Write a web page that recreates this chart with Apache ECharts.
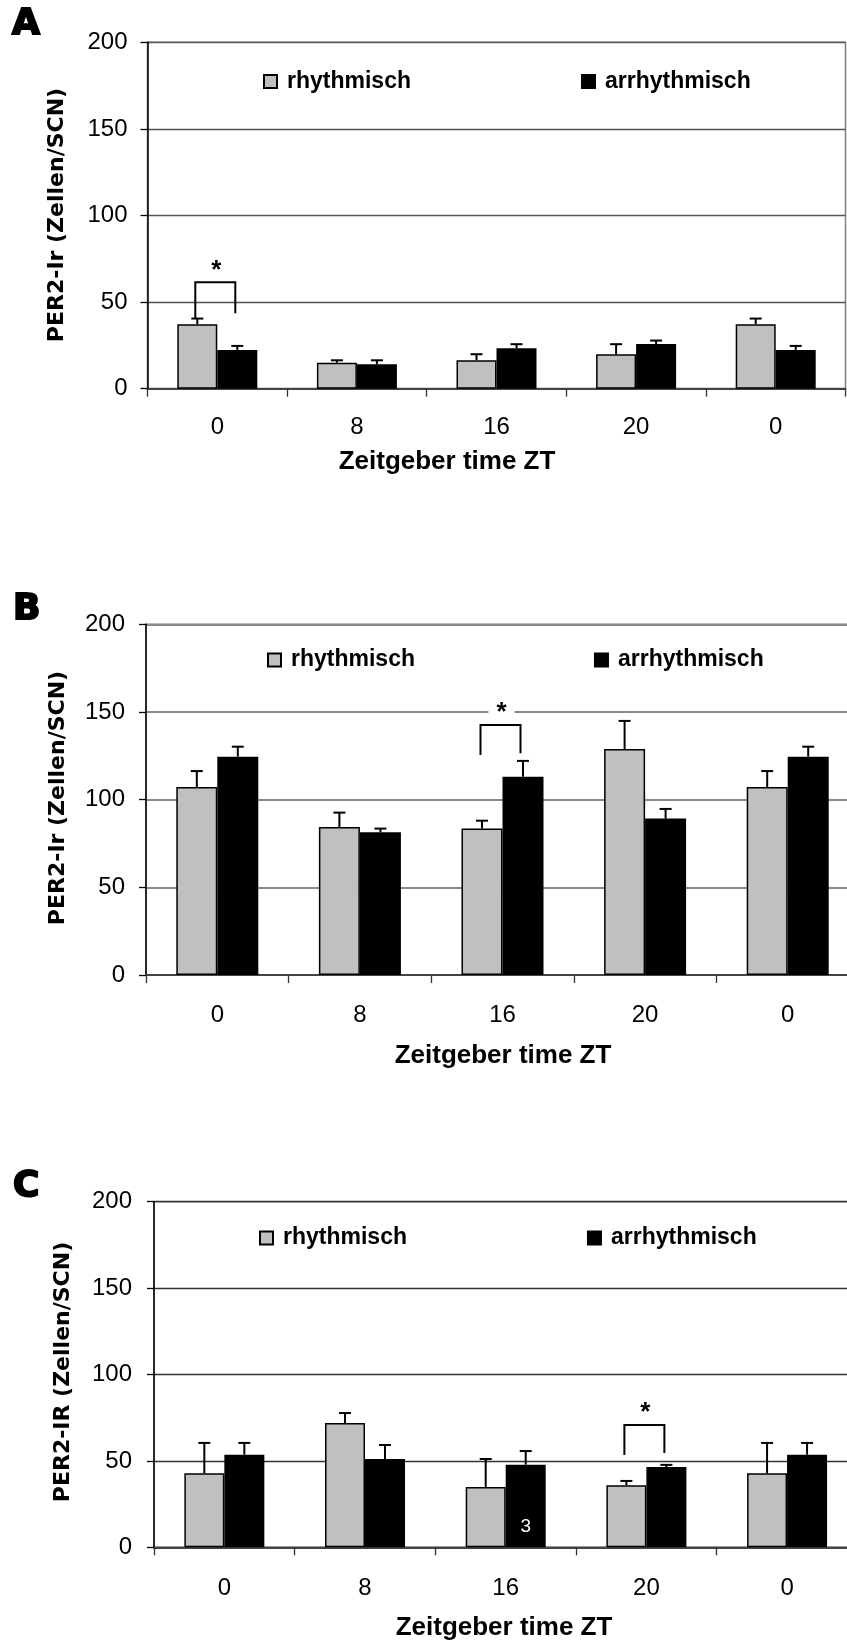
<!DOCTYPE html>
<html><head><meta charset="utf-8">
<script src="https://cdn.jsdelivr.net/npm/echarts@6/dist/echarts.min.js"></script>
<style>html,body{margin:0;padding:0;overflow:hidden;background:#fff}#c{width:860px;height:1644px}</style>
</head><body><div id="c"></div>
<script>
// ---------- data ----------
const categories = ['0', '8', '16', '20', '0'];
const seriesNames = ['rhythmisch', 'arrhythmisch'];
const panelLetters = ['A', 'B', 'C'];
const yTitles = ['PER2-Ir (Zellen/SCN)', 'PER2-Ir (Zellen/SCN)', 'PER2-IR (Zellen/SCN)'];
const xTitle = 'Zeitgeber time ZT';

const A_rhythmisch = [37.2, 15.0, 16.4, 19.9, 37.2];
const A_rhythmischErr = [3.3, 1.4, 3.5, 5.8, 3.3];
const A_arrhythmisch = [22.4, 14.1, 23.4, 25.8, 22.4];
const A_arrhythmischErr = [2.3, 2.3, 2.3, 2.0, 2.3];

const B_rhythmisch = [107.2, 84.4, 83.5, 128.9, 107.2];
const B_rhythmischErr = [9.1, 8.2, 4.5, 16.0, 9.1];
const B_arrhythmisch = [124.5, 81.4, 113.1, 89.2, 124.5];
const B_arrhythmischErr = [5.7, 2.1, 9.0, 5.5, 5.7];

const C_rhythmisch = [42.8, 71.9, 34.9, 35.9, 42.8];
const C_rhythmischErr = [17.6, 5.8, 16.2, 2.5, 17.6];
const C_arrhythmisch = [53.6, 51.1, 47.8, 46.5, 53.6];
const C_arrhythmischErr = [6.8, 8.1, 7.9, 1.2, 6.8];

// significance: [category index, bracket top, left foot, right foot]
const A_sig = [0, 61.4, 40.6, 43.5];
const B_sig = [2, 142.6, 125.5, 126.4];
const C_sig = [3, 70.8, 53.4, 54.6];
// n annotation inside a bar of panel C (arrhythmisch): [category index, text]
const C_note = [2, '3'];

const panels = [
  {rh: A_rhythmisch, rhE: A_rhythmischErr, ar: A_arrhythmisch, arE: A_arrhythmischErr, sig: A_sig, note: null},
  {rh: B_rhythmisch, rhE: B_rhythmischErr, ar: B_arrhythmisch, arE: B_arrhythmischErr, sig: B_sig, note: null},
  {rh: C_rhythmisch, rhE: C_rhythmischErr, ar: C_arrhythmisch, arE: C_arrhythmischErr, sig: C_sig, note: C_note}
];

// ---------- layout / style ----------
const W = 860;
const L = [
  {left: 147.5, right: W - 845.5, top: 42.3, height: 346.4, barW: 40, gridC: '#555', gridW: 1.3, yMargin: 20, xMargin: 27,
   letter: [12, 25], yT: [57.5, 215], xT: [447, 461.7], lg: {left: 263, top: 70, gap: 170}, starBg: false},
  {left: 146, right: W - 859, top: 624.3, height: 350.7, barW: 41, gridC: '#8a8a8a', gridW: 2, yMargin: 21, xMargin: 28,
   letter: [13, 610], yT: [57.8, 798], xT: [503, 1055.6], lg: {left: 267, top: 648.5, gap: 179}, starBg: true},
  {left: 154, right: W - 857.4, top: 1201.7, height: 345.6, barW: 40, gridC: '#333', gridW: 1.3, yMargin: 22, xMargin: 29,
   letter: [13, 1187], yT: [63.2, 1372], xT: [504, 1628], lg: {left: 259, top: 1226.5, gap: 180}, starBg: false}
];
const FONT = '"Liberation Sans", Arial, sans-serif';
const GRAY = '#c0c0c0';

const grid = [], xAxis = [], yAxis = [], series = [], legend = [], graphic = [];

L.forEach((l, i) => {
  const p = panels[i];
  grid.push({left: l.left, right: l.right, top: l.top, height: l.height, show: true,
    borderColor: '#808080', borderWidth: 1.5, backgroundColor: 'transparent'});
  xAxis.push({type: 'category', gridIndex: i, data: categories, boundaryGap: true,
    axisLine: {lineStyle: {color: '#444', width: 2}},
    axisTick: {show: true, length: 8, lineStyle: {color: '#333', width: 1.3}},
    axisLabel: {fontFamily: FONT, fontSize: 24, color: '#000', margin: l.xMargin, interval: 0},
    splitLine: {show: false}});
  yAxis.push({type: 'value', gridIndex: i, min: 0, max: 200, interval: 50,
    axisLine: {show: true, lineStyle: {color: '#000', width: 1.5}},
    axisTick: {show: true, length: 7, lineStyle: {color: '#000', width: 1.3}},
    axisLabel: {fontFamily: FONT, fontSize: 24, color: '#000', margin: l.yMargin},
    splitLine: {show: true, lineStyle: {color: l.gridC, width: l.gridW}}});

  series.push({name: seriesNames[0], type: 'bar', xAxisIndex: i, yAxisIndex: i, barWidth: l.barW, barGap: '0%',
    itemStyle: {color: GRAY, borderColor: '#000', borderWidth: 1.5}, data: p.rh.slice(), z: 2});
  series.push({name: seriesNames[1], type: 'bar', xAxisIndex: i, yAxisIndex: i, barWidth: l.barW, barGap: '0%',
    itemStyle: {color: '#000', borderColor: '#000', borderWidth: 1.5},
    data: p.ar.map((v, k) => (p.note && k === p.note[0]) ? {value: v, label: {show: true, formatter: p.note[1],
      position: 'insideBottom', distance: 11, color: '#fff', fontSize: 19, fontFamily: FONT}} : v), z: 2});

  [[p.rh, p.rhE, -1], [p.ar, p.arE, 1]].forEach(([vals, errs, dir]) => {
    series.push({type: 'custom', xAxisIndex: i, yAxisIndex: i, z: 5, silent: true,
      data: vals.map((v, k) => [k, v, errs[k]]),
      renderItem(params, api) {
        const k = api.value(0), v = api.value(1), e = api.value(2);
        const p0 = api.coord([k, v]), p1 = api.coord([k, v + e]);
        const x = p0[0] + dir * l.barW / 2;
        return {type: 'group', children: [
          {type: 'line', shape: {x1: x, y1: p0[1], x2: x, y2: p1[1]}, style: {stroke: '#000', lineWidth: 2}},
          {type: 'line', shape: {x1: x - 6, y1: p1[1], x2: x + 6, y2: p1[1]}, style: {stroke: '#000', lineWidth: 2}}
        ]};
      }});
  });

  series.push({type: 'custom', xAxisIndex: i, yAxisIndex: i, z: 6, silent: true,
    data: [p.sig],
    renderItem(params, api) {
      const k = api.value(0);
      const top = api.coord([k, api.value(1)]);
      const lf = api.coord([k, api.value(2)]);
      const rf = api.coord([k, api.value(3)]);
      const cx = top[0], xl = cx - 22, xr = cx + 18;
      const star = {type: 'text', x: cx - 1, y: top[1] - 12, z2: 1,
        style: {text: '*', fontSize: 26, fontWeight: 'bold', fontFamily: FONT, align: 'center', verticalAlign: 'middle', fill: '#000'}};
      if (l.starBg) { star.style.backgroundColor = '#fff'; star.style.padding = [0, 8]; }
      return {type: 'group', children: [
        star,
        {type: 'polyline', z2: 2, shape: {points: [[xl, lf[1]], [xl, top[1]], [xr, top[1]], [xr, rf[1]]]},
          style: {stroke: '#000', lineWidth: 2, fill: null}}
      ]};
    }});

  legend.push({left: l.lg.left, top: l.lg.top, itemGap: l.lg.gap, itemWidth: 13, itemHeight: 13, icon: 'rect',
    selectedMode: false, padding: 0, data: seriesNames,
    textStyle: {fontSize: 23, fontWeight: 'bold', fontFamily: FONT, color: '#000', padding: [0, 0, 0, 5]}});

  graphic.push({type: 'text', x: l.letter[0], y: l.letter[1],
    style: {text: panelLetters[i], fontSize: 36, fontWeight: 'bold', fontFamily: '"DejaVu Sans", sans-serif',
      verticalAlign: 'middle', align: 'left', fill: '#000', stroke: '#000', lineWidth: 2}});
  graphic.push({type: 'text', x: l.yT[0], y: l.yT[1], rotation: Math.PI / 2,
    style: {text: yTitles[i], fontSize: 22, fontWeight: 'bold', fontFamily: '"DejaVu Sans", sans-serif',
      align: 'center', verticalAlign: 'middle', fill: '#000'}});
  graphic.push({type: 'text', x: l.xT[0], y: l.xT[1],
    style: {text: xTitle, fontSize: 26, fontWeight: 'bold', fontFamily: FONT,
      align: 'center', verticalAlign: 'middle', fill: '#000'}});
});

const chart = echarts.init(document.getElementById('c'), null, {renderer: 'canvas'});
chart.setOption({animation: false, backgroundColor: '#fff', grid, xAxis, yAxis, series, legend, graphic});
</script>
</body></html>
